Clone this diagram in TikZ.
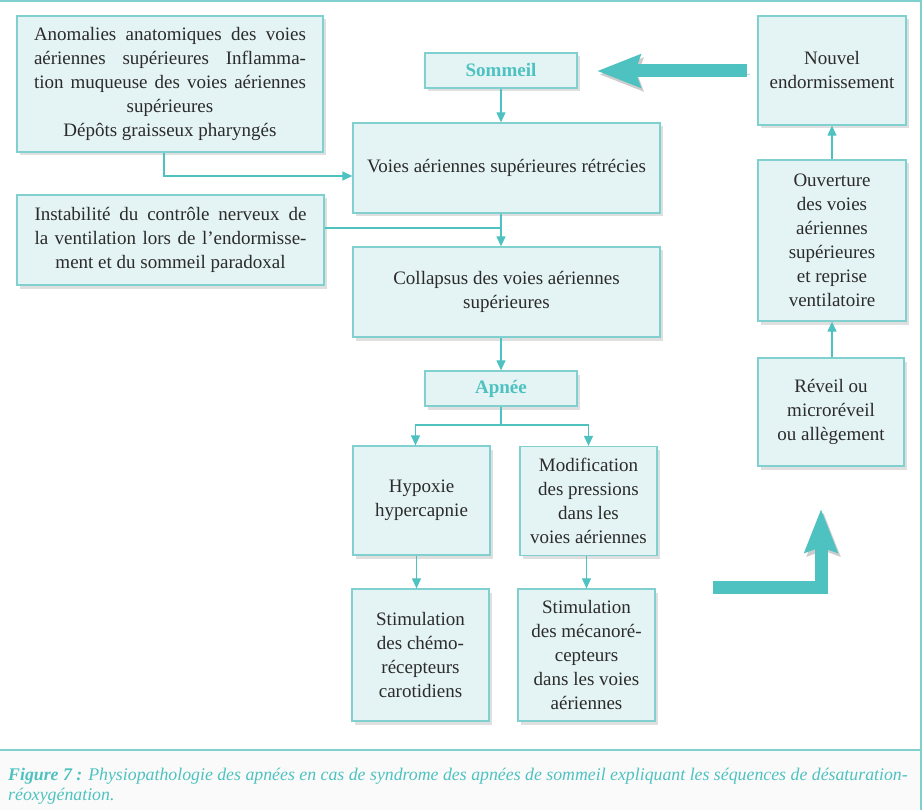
\documentclass[tikz,border=0pt]{standalone}
\usepackage{fontspec}
\setmainfont{Liberation Serif}
\usetikzlibrary{arrows.meta,shadows}
\definecolor{teal}{HTML}{4DC2C0}
\definecolor{rim}{HTML}{80D0D0}
\definecolor{pale}{HTML}{E4F3F4}
\definecolor{ink}{HTML}{2B2B2B}
\newcommand\jline[1]{\makebox[272pt][s]{#1}}

\begin{document}
\begin{tikzpicture}[x=1pt,y=-1pt,
  font=\fontsize{19}{24}\selectfont,
  box/.style={draw=rim,line width=1.3pt,fill=pale,text=ink,align=center,inner sep=4pt,
    drop shadow={shadow xshift=2.5pt,shadow yshift=-3.5pt,opacity=.18,fill=black!70}},
  key/.style={box,font=\fontsize{19}{24}\selectfont\bfseries,text=teal},
  link/.style={draw=teal,line width=1.2pt,-{Triangle[length=10pt,width=9pt]}},
  fat/.style={draw=teal,line width=13pt,-{Stealth[length=43pt,width=32pt,inset=5pt]},
    preaction={draw=black,opacity=.2,transform canvas={shift={(2.5pt,-3.5pt)}}}}]

%% frame and caption strip
\useasboundingbox (0,0) rectangle (923,810);
\fill[black!2] (0,751) rectangle (921,810);
\draw[rim,line width=1.2pt] (0,1) -- (921,1) -- (921,810);
\draw[rim,line width=1.2pt] (0,750) -- (921,750);
\node[anchor=north west,text=teal,align=left,inner sep=0pt,
  font=\fontsize{17.8}{20}\selectfont\itshape] (caption) at (8,768)
  {\textbf{Figure 7 :} Physiopathologie des apnées en cas de syndrome des apnées de sommeil expliquant les séquences de désaturation-\\
   réoxygénation.};

%% causes on the left
\node[box,minimum width=306,minimum height=136] (anom) at (170,84)
  {\jline{Anomalies anatomiques des voies}\\ \jline{aériennes supérieures Inflamma-}\\ \jline{tion muqueuse des voies aériennes}\\ supérieures\\ Dépôts graisseux pharyngés};
\node[box,minimum width=307,minimum height=90] (instab) at (170.5,240)
  {\jline{Instabilité du contrôle nerveux de}\\ \jline{la ventilation lors de l’endormisse-}\\ ment et du sommeil paradoxal};

%% main column
\node[key,minimum width=152,minimum height=35] (sommeil) at (501,70.5) {Sommeil};
\node[box,minimum width=307,minimum height=90] (voies) at (506.5,168) {Voies aériennes supérieures rétrécies};
\node[box,minimum width=307,minimum height=90] (collapsus) at (506.5,292) {Collapsus des voies aériennes\\ supérieures};
\node[key,minimum width=152,minimum height=35] (apnee) at (501,388.5) {Apnée};

%% two branches
\node[box,minimum width=137,minimum height=109] (hypox) at (421.5,500.5) {Hypoxie\\ hypercapnie};
\node[box,minimum width=137,minimum height=109] (modif) at (588.5,501) {Modification\\ des pressions\\ dans les\\ voies aériennes};
\node[box,minimum width=137,minimum height=132] (chemo) at (420.5,655) {Stimulation\\ des chémo-\\ récepteurs\\ carotidiens};
\node[box,minimum width=137,minimum height=132] (mecano) at (586.5,655) {Stimulation\\ des mécanoré-\\ cepteurs\\ dans les voies\\ aériennes};

%% recovery column
\node[box,minimum width=148,minimum height=109] (nouvel) at (832,70.5) {Nouvel\\ endormissement};
\node[box,minimum width=148,minimum height=161] (ouvert) at (832,240.5) {Ouverture\\ des voies\\ aériennes\\ supérieures\\ et reprise\\ ventilatoire};
\node[box,minimum width=146,minimum height=108] (reveil) at (831,412) {Réveil ou\\ microréveil\\ ou allègement};

%% thin connectors
\coordinate (split) at (501,425);
\draw[link] ([xshift=-6pt]anom.south) |- ([yshift=-8pt]voies.west);
\draw[link] (sommeil.south) -- (sommeil.south |- voies.north);
\draw[draw=teal,line width=1.2pt] ([yshift=12pt]instab.east) -- ([yshift=12pt]instab.east -| sommeil);
\draw[link] (voies.south -| sommeil) -- (collapsus.north -| sommeil);
\draw[link] (collapsus.south -| sommeil) -- (apnee.north);
\draw[draw=teal,line width=1.2pt] (apnee.south) -- (split);
\draw[link] (split) -| ([xshift=-6pt]hypox.north);
\draw[link] (split) -| (modif.north);
\draw[link] ([xshift=-5pt]hypox.south) -- ([xshift=-5pt]hypox.south |- chemo.north);
\draw[link] (modif.south -| mecano) -- (mecano.north);
\draw[link] (reveil.north -| ouvert) -- (ouvert.south);
\draw[link] (ouvert.north) -- (nouvel.south);

%% big arrows
\coordinate (backtail) at (747,71);
\coordinate (backtip) at (597,71);
\coordinate (riseTail) at (713,587);
\coordinate (riseTip) at (821,509);
\draw[fat] (backtail) -- (backtip);
\draw[fat] (riseTail) -| (riseTip);
\end{tikzpicture}
\end{document}
